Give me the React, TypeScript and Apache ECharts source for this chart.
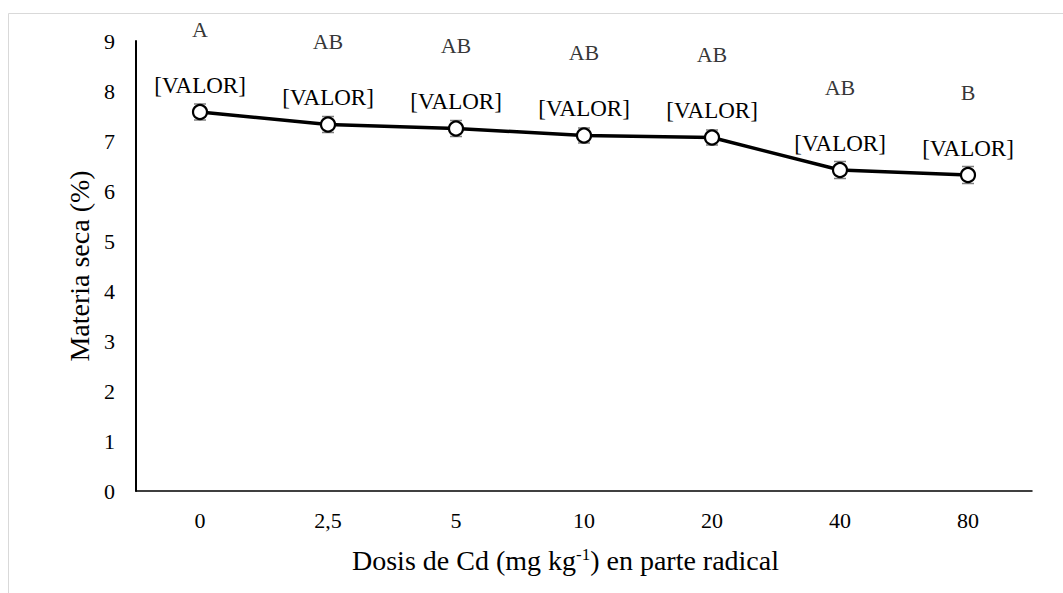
import React, { useEffect, useRef } from "react";
import * as echarts from "echarts";

const categories = ["0", "2,5", "5", "10", "20", "40", "80"];
const values = [7.58, 7.33, 7.25, 7.11, 7.07, 6.42, 6.32];
const errors = [0.16, 0.16, 0.16, 0.15, 0.15, 0.17, 0.17];
const letters = ["A", "AB", "AB", "AB", "AB", "AB", "B"];
const valueLabel = "[VALOR]";

const FONT = "'Liberation Serif', 'Times New Roman', serif";

export default function App() {
  const ref = useRef<HTMLDivElement>(null);
  useEffect(() => {
    document.body.style.margin = "0";
    const chart = echarts.init(ref.current!, null, { renderer: "svg" });
    const option: any = {
      animation: false,
      backgroundColor: "#fff",
      textStyle: { fontFamily: FONT },
      graphic: [
        {
          type: "rect",
          shape: { x: 8.5, y: 13.5, width: 1100, height: 700 },
          style: { fill: "none", stroke: "#d9d9d9", lineWidth: 1 },
          silent: true,
        },
      ],
      grid: { left: 136, top: 41, right: 31, bottom: 102 },
      xAxis: {
        type: "category",
        data: categories,
        boundaryGap: true,
        axisLine: { lineStyle: { color: "#000", width: 1.5 } },
        axisTick: { show: false },
        axisLabel: { color: "#000", fontSize: 22, fontFamily: FONT, margin: 18 },
        name: "Dosis de Cd (mg kg{sup|-1}) en parte radical",
        nameLocation: "middle",
        nameGap: 55,
        nameTextStyle: {
          color: "#000",
          fontSize: 28,
          fontFamily: FONT,
          verticalAlign: "top",
          padding: [0, 37, 0, 0],
          rich: {
            sup: { fontSize: 17, fontFamily: FONT, color: "#000", verticalAlign: "top", padding: [0, 0, 11, 0] },
          },
        },
      },
      yAxis: {
        type: "value",
        min: 0,
        max: 9,
        interval: 1,
        splitLine: { show: false },
        axisLine: { show: true, lineStyle: { color: "#000", width: 2 } },
        axisTick: { show: false },
        axisLabel: { color: "#000", fontSize: 22, fontFamily: FONT, margin: 21 },
        name: "Materia seca (%)",
        nameLocation: "middle",
        nameGap: 37,
        nameRotate: 90,
        nameTextStyle: { color: "#000", fontSize: 28, fontFamily: FONT },
      },
      series: [
        {
          type: "custom",
          z: 1,
          silent: true,
          data: values.map((v, i) => [i, v, errors[i]]),
          renderItem: (params: any, api: any) => {
            const x = api.value(0);
            const v = api.value(1);
            const e = api.value(2);
            const hi = api.coord([x, v + e]);
            const lo = api.coord([x, v - e]);
            const w = 6;
            const style = { stroke: "#7f7f7f", lineWidth: 1.5 };
            return {
              type: "group",
              children: [
                { type: "line", shape: { x1: hi[0], y1: hi[1], x2: lo[0], y2: lo[1] }, style },
                { type: "line", shape: { x1: hi[0] - w, y1: hi[1], x2: hi[0] + w, y2: hi[1] }, style },
                { type: "line", shape: { x1: lo[0] - w, y1: lo[1], x2: lo[0] + w, y2: lo[1] }, style },
              ],
            };
          },
        },
        {
          type: "line",
          z: 3,
          data: values,
          symbol: "circle",
          symbolSize: 14,
          showAllSymbol: true,
          lineStyle: { color: "#000", width: 3.5 },
          itemStyle: { color: "#fff", borderColor: "#000", borderWidth: 2.2 },
          label: {
            show: true,
            position: "top",
            distance: 7,
            formatter: () => valueLabel,
            color: "#000",
            fontSize: 23,
            fontFamily: FONT,
          },
        },
        {
          type: "scatter",
          z: 2,
          data: values,
          symbolSize: 14,
          itemStyle: { color: "rgba(0,0,0,0)" },
          label: {
            show: true,
            position: "top",
            distance: 65,
            formatter: (p: any) => letters[p.dataIndex],
            color: "#000",
            fontSize: 22,
            fontFamily: FONT,
          },
        },
      ],
    };
    chart.setOption(option);
    return () => chart.dispose();
  }, []);
  return <div ref={ref} style={{ width: 1063, height: 593 }} />;
}
